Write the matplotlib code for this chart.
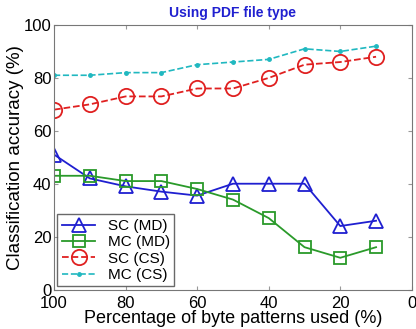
import matplotlib
matplotlib.use("Agg")
import matplotlib.pyplot as plt

plt.rcParams['font.family'] = ['Liberation Sans', 'DejaVu Sans']

pct = [100, 90, 80, 70, 60, 50, 40, 30, 20, 10]
sc_md = [51, 42, 39, 37, 35.5, 40, 40, 40, 24, 26]
mc_md = [43, 43, 41, 41, 38, 34, 27, 16, 12, 16]
sc_cs = [68, 70, 73, 73, 76, 76, 80, 85, 86, 88]
mc_cs = [81, 81, 82, 82, 85, 86, 87, 91, 90, 92]

fig = plt.figure(figsize=(4.16, 3.29), dpi=100)
ax = fig.add_axes([0.13, 0.12, 0.86, 0.804])

ax.plot(pct, sc_md, "-^", color="#1f1fd0", mfc="none", ms=10, mew=1.3, lw=1.3, label="SC (MD)")
ax.plot(pct, mc_md, "-s", color="#2a9a2a", mfc="none", ms=9, mew=1.3, lw=1.3, label="MC (MD)")
ax.plot(pct, sc_cs, "--o", color="#e02020", mfc="none", ms=11, mew=1.3, lw=1.3, label="SC (CS)")
ax.plot(pct, mc_cs, "--.", color="#20b8c0", ms=5, lw=1.2, label="MC (CS)")

ax.set_xlim(100, 0)
ax.set_ylim(0, 100)
ax.set_xticks([100, 80, 60, 40, 20, 0])
ax.set_yticks([0, 20, 40, 60, 80, 100])
ax.tick_params(direction="in", top=True, right=True, labelsize=12, length=3, color="#999999")
ax.tick_params(axis="x", pad=5)
ax.tick_params(axis="y", pad=2)
for s in ax.spines.values():
    s.set_color("#777777")

ax.set_title("Using PDF file type", color="#2020d0", fontsize=10, fontweight="bold", pad=6)
ax.set_xlabel("Percentage of byte patterns used (%)", fontsize=13, labelpad=-1)
ax.set_ylabel("Classification accuracy (%)", fontsize=13.5, labelpad=0)

leg = ax.legend(loc="lower left", fontsize=11, fancybox=False, edgecolor="#444444",
                borderaxespad=0.2, handlelength=2.2, labelspacing=0.15, borderpad=0.3)
leg.get_frame().set_linewidth(1.0)

fig.savefig("out.png", dpi=100)
